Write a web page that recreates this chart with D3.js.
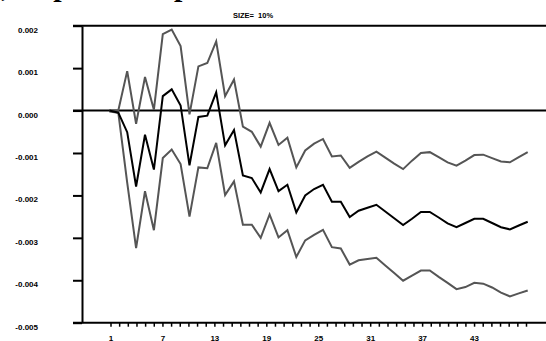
<!DOCTYPE html>
<html lang="en">
<head>
  <meta charset="UTF-8">
  <title>Impulse response, SIZE= 10%</title>
  <style>
    body { margin: 0; background: #fff; }
    svg { display: block; }
    .lbl { font-family: "Liberation Sans", Arial, sans-serif; font-weight: bold; font-size: 8px; fill: #000; }
  </style>
</head>
<body>
  <div id="chart"></div>

<script src="https://d3js.org/d3.v7.min.js"></script>
<script>
  // periods 1..48
  var periods = d3.range(1, 49);

  // point estimate (black line)
  var response = [0, -0.00005, -0.00051, -0.00179, -0.00057, -0.00139, 0.00034, 0.00050, 0.00012, -0.00129,
    -0.00015, -0.00012, 0.00043, -0.00082, -0.00046, -0.00153, -0.00159, -0.00193, -0.00138, -0.00190,
    -0.00175, -0.00240, -0.00200, -0.00185, -0.00175, -0.00215, -0.00215, -0.00251, -0.00236, -0.00229,
    -0.00222, -0.00238, -0.00254, -0.00270, -0.00255, -0.00239, -0.00239, -0.00252, -0.00266, -0.00275,
    -0.00265, -0.00255, -0.00255, -0.00265, -0.00275, -0.00280, -0.00271, -0.00262];

  // upper band (grey)
  var upper = [0, 0, 0.00093, -0.00031, 0.00079, 0.00002, 0.00180, 0.00191, 0.00152, -0.00009,
    0.00104, 0.00112, 0.00163, 0.00034, 0.00073, -0.00038, -0.00050, -0.00085, -0.00029, -0.00081,
    -0.00064, -0.00134, -0.00094, -0.00078, -0.00067, -0.00108, -0.00106, -0.00135, -0.00121, -0.00108,
    -0.00097, -0.00111, -0.00125, -0.00138, -0.00118, -0.00100, -0.00098, -0.00110, -0.00122, -0.00130,
    -0.00118, -0.00105, -0.00104, -0.00112, -0.00120, -0.00122, -0.00110, -0.00098];

  // lower band (grey)
  var lower = [-0.00002, -0.00005, -0.00170, -0.00324, -0.00190, -0.00282, -0.00112, -0.00092, -0.00126, -0.00250,
    -0.00134, -0.00136, -0.00076, -0.00199, -0.00167, -0.00269, -0.00269, -0.00300, -0.00245, -0.00299,
    -0.00282, -0.00345, -0.00306, -0.00293, -0.00281, -0.00322, -0.00325, -0.00363, -0.00353, -0.00350,
    -0.00347, -0.00365, -0.00383, -0.00401, -0.00389, -0.00377, -0.00377, -0.00392, -0.00406, -0.00421,
    -0.00416, -0.00406, -0.00408, -0.00417, -0.00429, -0.00438, -0.00431, -0.00424];

  var yTicks = [0.002, 0.001, 0, -0.001, -0.002, -0.003, -0.004, -0.005];
  var yTickLabels = ['0.002', '0.001', '0.000', '-0.001', '-0.002', '-0.003', '-0.004', '-0.005'];
  var xTicks = d3.range(1, 50);
  var xTickLabels = [1, 7, 13, 19, 25, 31, 37, 43];
  var subtitle = 'SIZE=  10%';
  var headline = '(1), Impulse Response';

  var width = 546, height = 341;

  var svg = d3.select('#chart')
    .append('svg')
    .attr('width', width)
    .attr('height', height);

  var y = d3.scaleLinear().domain([-0.005, 0.002]).range([322.7, 25.7]);
  var x = d3.scaleLinear().domain([1, 48]).range([109.4, 527.7]);
  var xAxisScale = d3.scaleLinear().domain([1, 49]).range([110.5, 526]);

  // page title, only the descenders show under the top edge
  svg.append('text')
    .attr('x', -33.5)
    .attr('y', -4)
    .style('font-family', '"Liberation Serif", "Times New Roman", serif')
    .style('font-weight', 'bold')
    .style('font-size', '30px')
    .text(headline);

  svg.append('text')
    .attr('class', 'lbl')
    .attr('x', 253)
    .attr('y', 18)
    .attr('text-anchor', 'middle')
    .style('font-size', '7.5px')
    .style('white-space', 'pre')
    .text(subtitle);

  // frame lines across the plot
  [0.002, 0, -0.005].forEach(function(v) {
    svg.append('line')
      .attr('x1', 73).attr('x2', width)
      .attr('y1', y(v)).attr('y2', y(v))
      .attr('stroke', '#000')
      .attr('stroke-width', 2);
  });

  var yAxis = d3.axisLeft(y)
    .tickValues(yTicks)
    .tickSize(9)
    .tickSizeOuter(0)
    .tickPadding(0)
    .tickFormat(function(d, i) { return yTickLabels[i]; });

  var gy = svg.append('g')
    .attr('transform', 'translate(82,0)')
    .call(yAxis);
  gy.select('.domain').attr('stroke-width', 2);
  gy.selectAll('.tick line').attr('stroke-width', 2);
  gy.selectAll('.tick text')
    .attr('class', 'lbl')
    .attr('x', -44)
    .attr('dy', '6.5')
    .attr('text-anchor', 'end');

  var xAxis = d3.axisBottom(xAxisScale)
    .tickValues(xTicks)
    .tickSize(4)
    .tickSizeOuter(0)
    .tickPadding(9)
    .tickFormat(function(d) { return xTickLabels.indexOf(d) >= 0 ? d : ''; });

  var gx = svg.append('g')
    .attr('transform', 'translate(0,' + y(-0.005) + ')')
    .call(xAxis);
  gx.select('.domain').remove();
  gx.selectAll('.tick line').attr('stroke-width', 1.5);
  gx.selectAll('.tick text').attr('class', 'lbl');

  var line = d3.line()
    .x(function(d, i) { return x(periods[i]); })
    .y(function(d) { return y(d); });

  svg.append('path')
    .datum(upper)
    .attr('fill', 'none')
    .attr('stroke', '#555')
    .attr('stroke-width', 2)
    .attr('d', line);

  svg.append('path')
    .datum(lower)
    .attr('fill', 'none')
    .attr('stroke', '#555')
    .attr('stroke-width', 2)
    .attr('d', line);

  svg.append('path')
    .datum(response)
    .attr('fill', 'none')
    .attr('stroke', '#000')
    .attr('stroke-width', 2)
    .attr('d', line);
</script>
</body>
</html>
